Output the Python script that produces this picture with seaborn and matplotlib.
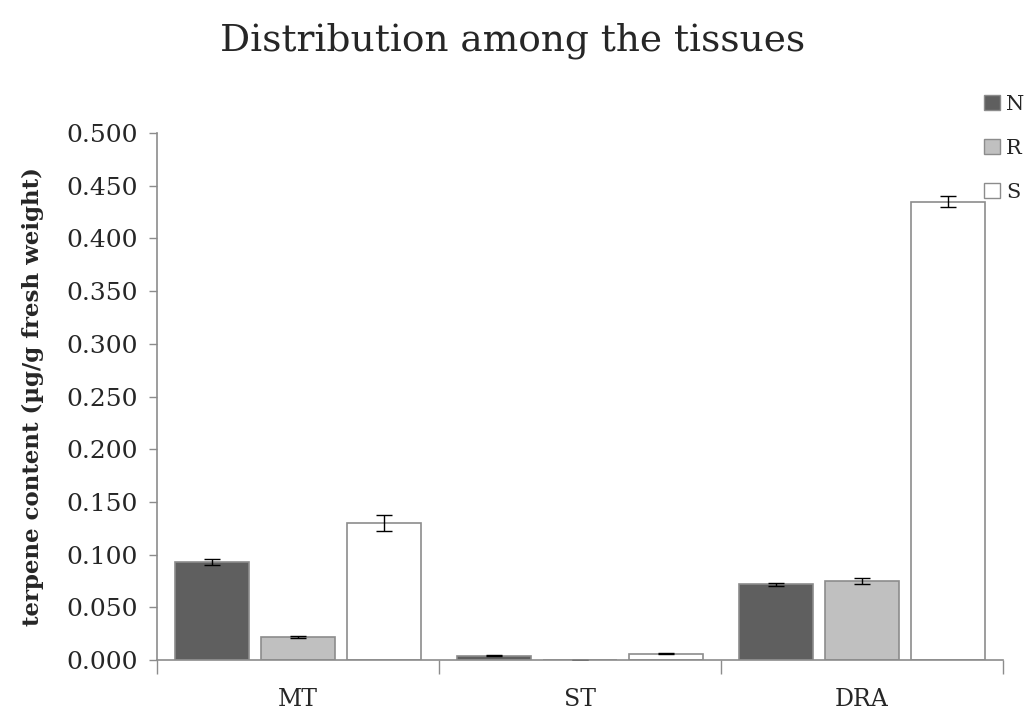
import matplotlib
matplotlib.use("Agg")
import matplotlib.pyplot as plt
import seaborn as sns
import pandas as pd
import numpy as np
from matplotlib.patches import Patch
from matplotlib.ticker import FormatStrFormatter, FixedLocator

tissues = ["MT", "ST", "DRA"]
groups = ["N", "R", "S"]
values_N = [0.093, 0.004, 0.072]
values_R = [0.022, 0.000, 0.075]
values_S = [0.130, 0.006, 0.435]
err_N = [0.003, 0.0005, 0.0015]
err_R = [0.001, 0.0, 0.003]
err_S = [0.008, 0.0005, 0.005]
colors = {"N": "#5f5f5f", "R": "#c0c0c0", "S": "#ffffff"}

rows = []
for g, vals, errs in zip(groups, [values_N, values_R, values_S], [err_N, err_R, err_S]):
    for t, v, e in zip(tissues, vals, errs):
        rows.append({"tissue": t, "group": g, "value": v, "err": e})
df = pd.DataFrame(rows)

sns.set_style("white")
plt.rcParams["font.family"] = ["DejaVu Serif"]

fig = plt.figure(figsize=(10.26, 7.09), dpi=100)
ax = fig.add_axes([0.153, 0.0691, 0.8246, 0.7433])

sns.barplot(data=df, x="tissue", y="value", hue="group", order=tissues,
            hue_order=groups, palette=colors, errorbar=None, width=0.915,
            gap=0.13, edgecolor="#8c8c8c", linewidth=1.2, ax=ax, legend=False)

# error bars at bar centers
for cont, g in zip(ax.containers, groups):
    sub = df[df.group == g].set_index("tissue").loc[tissues]
    xs = [p.get_x() + p.get_width() / 2 for p in cont.patches]
    ax.errorbar(xs, sub["value"].values, yerr=sub["err"].values, fmt="none",
                ecolor="#000000", elinewidth=1, capsize=6, capthick=1)

ax.set_ylim(0, 0.5)
ax.set_xlim(-0.5, 2.5)
ax.yaxis.set_major_locator(FixedLocator(np.arange(0, 0.5001, 0.05)))
ax.yaxis.set_major_formatter(FormatStrFormatter("%.3f"))
ax.tick_params(axis="y", which="major", length=6, color="#8c8c8c", width=1,
               labelsize=18, direction="out", left=True, pad=8)
ax.set_xticks([0, 1, 2])
ax.set_xticklabels(tissues)
ax.tick_params(axis="x", which="major", length=0, labelsize=17, pad=20)
ax.set_xticks([-0.5, 0.5, 1.5, 2.5], minor=True)
ax.tick_params(axis="x", which="minor", length=10, color="#8c8c8c", width=1,
               direction="out", bottom=True)

for s in ["top", "right"]:
    ax.spines[s].set_visible(False)
for s in ["left", "bottom"]:
    ax.spines[s].set_color("#8c8c8c")
    ax.spines[s].set_linewidth(1.2)

ax.set_xlabel("")
ax.set_ylabel("terpene content (µg/g fresh weight)", fontsize=16.5,
              fontweight="bold", labelpad=16)

fig.suptitle("Distribution among the tissues", fontsize=27, y=0.968)

handles = [Patch(facecolor=colors[g], edgecolor="#8c8c8c", label=g) for g in groups]
fig.legend(handles=handles, loc="upper left", bbox_to_anchor=(0.959, 0.866),
           frameon=False, fontsize=15, handlelength=0.75, handleheight=0.75,
           labelspacing=1.2, handletextpad=0.3, borderpad=0, borderaxespad=0)

fig.savefig("out.png", dpi=100)
